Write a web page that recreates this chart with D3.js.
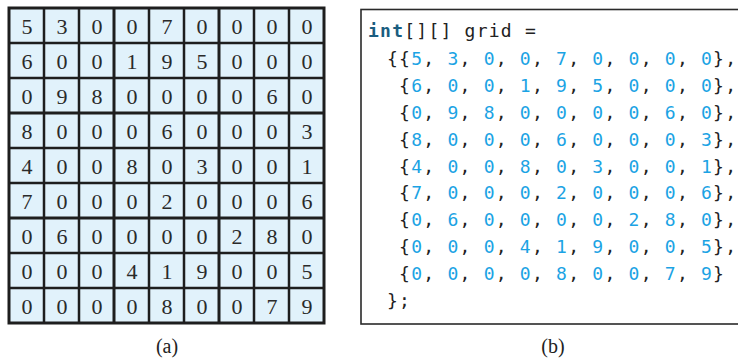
<!DOCTYPE html>
<html>
<head>
<meta charset="utf-8">
<script src="https://cdn.jsdelivr.net/npm/d3@7"></script>
<style>
  html, body { margin: 0; padding: 0; background: #fff; }
  svg { display: block; }
</style>
</head>
<body>
<svg id="chart" width="738" height="362"></svg>
<script>
// ---- data ----
const rowsIdx = [0, 1, 2, 3, 4, 5, 6, 7, 8];
const colsIdx = [0, 1, 2, 3, 4, 5, 6, 7, 8];
const row0 = [5, 3, 0, 0, 7, 0, 0, 0, 0];
const row1 = [6, 0, 0, 1, 9, 5, 0, 0, 0];
const row2 = [0, 9, 8, 0, 0, 0, 0, 6, 0];
const row3 = [8, 0, 0, 0, 6, 0, 0, 0, 3];
const row4 = [4, 0, 0, 8, 0, 3, 0, 0, 1];
const row5 = [7, 0, 0, 0, 2, 0, 0, 0, 6];
const row6 = [0, 6, 0, 0, 0, 0, 2, 8, 0];
const row7 = [0, 0, 0, 4, 1, 9, 0, 0, 5];
const row8 = [0, 0, 0, 0, 8, 0, 0, 7, 9];
const gridRows = [row0, row1, row2, row3, row4, row5, row6, row7, row8];
const labelA = "(a)";
const labelB = "(b)";

const svg = d3.select("#chart");

// ---- part (a): grid ----
const gx = d3.scaleBand().domain(colsIdx).range([9, 324]);
const gy = d3.scaleBand().domain(rowsIdx).range([8, 323]);

const cells = [];
gridRows.forEach((r, i) => r.forEach((v, j) => cells.push({ i, j, v })));

const gA = svg.append("g");
gA.selectAll("rect.cell").data(cells).join("rect")
  .attr("class", "cell")
  .attr("x", d => gx(d.j)).attr("y", d => gy(d.i))
  .attr("width", gx.bandwidth()).attr("height", gy.bandwidth())
  .attr("fill", "#e1f2fb");

gA.selectAll("text.num").data(cells).join("text")
  .attr("class", "num")
  .attr("x", d => gx(d.j) + gx.bandwidth() / 2 + 0.5)
  .attr("y", d => gy(d.i) + gy.bandwidth() / 2 + 8.5)
  .attr("text-anchor", "middle")
  .attr("font-family", "'Liberation Serif', 'DejaVu Serif', serif")
  .attr("font-size", 22)
  .attr("fill", "#2a2a2a")
  .text(d => d.v);

// inner lines
gA.selectAll("line.v").data(colsIdx.slice(1)).join("line")
  .attr("class", "v")
  .attr("x1", d => gx(d)).attr("x2", d => gx(d))
  .attr("y1", gy.range()[0]).attr("y2", gy.range()[1])
  .attr("stroke", "#1e1e1e")
  .attr("stroke-width", d => d % 3 === 0 ? 3 : 2.5);
gA.selectAll("line.h").data(rowsIdx.slice(1)).join("line")
  .attr("class", "h")
  .attr("y1", d => gy(d)).attr("y2", d => gy(d))
  .attr("x1", gx.range()[0]).attr("x2", gx.range()[1])
  .attr("stroke", "#1e1e1e")
  .attr("stroke-width", d => d % 3 === 0 ? 3 : 2.5);
gA.append("rect")
  .attr("x", gx.range()[0]).attr("y", gy.range()[0])
  .attr("width", gx.range()[1] - gx.range()[0])
  .attr("height", gy.range()[1] - gy.range()[0])
  .attr("fill", "none").attr("stroke", "#1e1e1e").attr("stroke-width", 3);

gA.append("text")
  .attr("x", 167).attr("y", 353)
  .attr("text-anchor", "middle")
  .attr("font-family", "'Liberation Serif', 'DejaVu Serif', serif")
  .attr("font-size", 20).attr("fill", "#222")
  .text(labelA);

// ---- part (b): code ----
const gB = svg.append("g");
gB.append("rect")
  .attr("x", 361).attr("y", 9.5)
  .attr("width", 400).attr("height", 314.5)
  .attr("fill", "none").attr("stroke", "#2a2a2a").attr("stroke-width", 1.6);

const ly = d3.scaleLinear().domain([1, 10]).range([65, 307]);

const mono = "'DejaVu Sans Mono', 'Liberation Mono', monospace";
const numColor = "#1ba3e4";
const txtColor = "#222";
const kwColor = "#1a5d80";

// first line
const t0 = gB.append("text")
  .attr("x", 368).attr("y", 37)
  .attr("font-family", mono).attr("font-size", 18)
  .attr("letter-spacing", 1.24)
  .attr("xml:space", "preserve")
  .style("white-space", "pre");
t0.append("tspan").attr("font-weight", "bold").attr("fill", kwColor).text("int");
t0.append("tspan").attr("fill", txtColor).text("[][] grid =");

// data lines
gridRows.forEach((r, i) => {
  const t = gB.append("text")
    .attr("x", 387).attr("y", ly(i + 1))
    .attr("font-family", mono).attr("font-size", 18)
    .attr("letter-spacing", 1.24)
    .attr("xml:space", "preserve")
    .style("white-space", "pre");
  t.append("tspan").attr("fill", txtColor).text(i === 0 ? "{{" : " {");
  r.forEach((v, j) => {
    t.append("tspan").attr("fill", numColor).text(String(v));
    if (j < r.length - 1) t.append("tspan").attr("fill", txtColor).text(", ");
  });
  t.append("tspan").attr("fill", txtColor).text(i < gridRows.length - 1 ? "}," : "}");
});

gB.append("text")
  .attr("x", 387).attr("y", ly(10))
  .attr("font-family", mono).attr("font-size", 18)
  .attr("letter-spacing", 1.24)
  .attr("fill", txtColor)
  .text("};");

gB.append("text")
  .attr("x", 553).attr("y", 353)
  .attr("text-anchor", "middle")
  .attr("font-family", "'Liberation Serif', 'DejaVu Serif', serif")
  .attr("font-size", 20).attr("fill", "#222")
  .text(labelB);
</script>
</body>
</html>
